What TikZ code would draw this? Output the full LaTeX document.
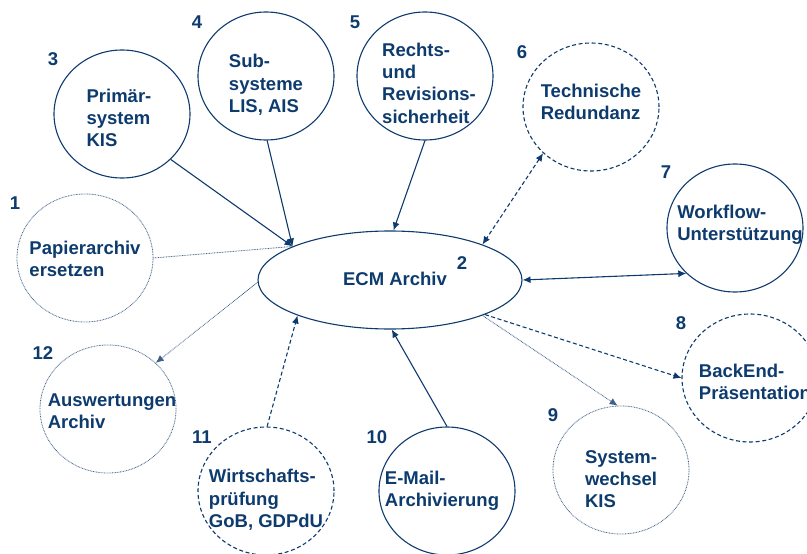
\documentclass[tikz,border=0pt]{standalone}
\usepackage{fontspec}
\setmainfont{Liberation Sans}
\usepackage{tikz}
\usetikzlibrary{arrows.meta,shapes.geometric}
\definecolor{ecmNavy}{HTML}{0D3B6E}
\definecolor{ecmDot}{HTML}{3F5F86}
\tikzset{
  bubble/.style={
    ellipse,
    draw=ecmNavy,
    line width=1.1pt,
    minimum width=136pt,
    minimum height=128pt,
    inner sep=0pt
  },
  bubbledash/.style={bubble, dash pattern=on 4pt off 2.6pt},
  bubbledot/.style={bubble, draw=ecmDot, line width=0.8pt, dash pattern=on 0.8pt off 0.8pt},
  txt/.style={
    text=ecmNavy,
    align=left,
    inner sep=0pt,
    font=\fontsize{18.5}{22.3}\selectfont\bfseries
  },
  num/.style={txt},
  link/.style={draw=ecmNavy, line width=1.1pt},
  linkdash/.style={link, dash pattern=on 4pt off 2.6pt},
  linkdot/.style={link, draw=ecmDot, line width=0.8pt, dash pattern=on 0.8pt off 0.8pt},
  tip/.style={-{Latex[length=8pt,width=7pt]}},
  bothtips/.style={{Latex[length=8pt,width=7pt]}-{Latex[length=8pt,width=7pt]}}
}

\begin{document}
\begin{tikzpicture}[x=1pt, y=-1pt]
  \useasboundingbox (0,0) rectangle (807,554);

  \node[bubble, minimum width=264pt, minimum height=98pt, label={[txt, xshift=5pt, yshift=1pt]center:ECM Archiv}] (ecm) at (390,280) {};

  \node[bubbledot, label={[txt, yshift=-1pt]center:{Papierarchiv\\ersetzen}}] (c1) at (85,258) {};
  \node[bubble, label={[txt, xshift=-3pt, yshift=-4pt]center:{Primär-\\system\\KIS}}] (c3) at (122,114) {};
  \node[bubble, label={[txt, yshift=-9pt]center:{Sub-\\systeme\\LIS, AIS}}] (c4) at (266,76) {};
  \node[bubble, label={[txt, xshift=4pt, yshift=-7pt]center:{Rechts-\\und\\Revisions-\\sicherheit}}] (c5) at (425,76) {};
  \node[bubbledash, label={[txt, yshift=5pt]center:{Technische\\Redundanz}}] (c6) at (591,107) {};
  \node[bubble, label={[txt, xshift=5pt, yshift=3pt]center:{Workflow-\\Unterstützung}}] (c7) at (735,228) {};
  \node[bubbledash, label={[txt, xshift=5pt, yshift=-4pt]center:{BackEnd-\\Präsentation}}] (c8) at (750,378) {};
  \node[bubbledot, label={[txt, yshift=-9pt]center:{System-\\wechsel\\KIS}}] (c9) at (621,470) {};
  \node[bubble, label={[txt, xshift=-5pt]center:{E-Mail-\\Archivierung}}] (c10) at (447,491) {};
  \node[bubbledash, label={[txt, yshift=-9pt]center:{Wirtschafts-\\prüfung\\GoB, GDPdU}}] (c11) at (266,491) {};
  \node[bubbledot, label={[txt, xshift=4pt, yshift=-2pt]center:{Auswertungen\\Archiv}}] (c12) at (108,409) {};

  \node[num] (n1) at (15,203) {1};
  \node[num] (n2) at (462,263) {2};
  \node[num] (n3) at (53,59) {3};
  \node[num] (n4) at (197,22) {4};
  \node[num] (n5) at (355,22) {5};
  \node[num] (n6) at (522,52) {6};
  \node[num] (n7) at (666,172) {7};
  \node[num] (n8) at (681,323) {8};
  \node[num] (n9) at (553,415) {9};
  \node[num] (n10) at (377,437) {10};
  \node[num] (n11) at (202,437) {11};
  \node[num] (n12) at (43,353) {12};

  \draw[linkdot] (c1.0) -- (ecm.161);
  \draw[link, tip] (c3.-43) -- (ecm.161);
  \draw[link, tip] (c4.-89) -- (ecm.161);
  \draw[link, tip] (c5.-90) -- (ecm.86);
  \draw[linkdash, bothtips] (c6.-136) -- (ecm.21);
  \draw[link, bothtips] (ecm.0) -- (c7.-137);
  \draw[linkdash, tip] (ecm.-20) -- (c8.180);
  \draw[linkdot, tip] (ecm.-21) -- (c9.93);
  \draw[link, tip] (c10.90) -- (ecm.-88);
  \draw[linkdash, tip] (c11.89) -- (ecm.-159);
  \draw[linkdot, tip] (ecm.-179) -- (c12.44);
\end{tikzpicture}
\end{document}
